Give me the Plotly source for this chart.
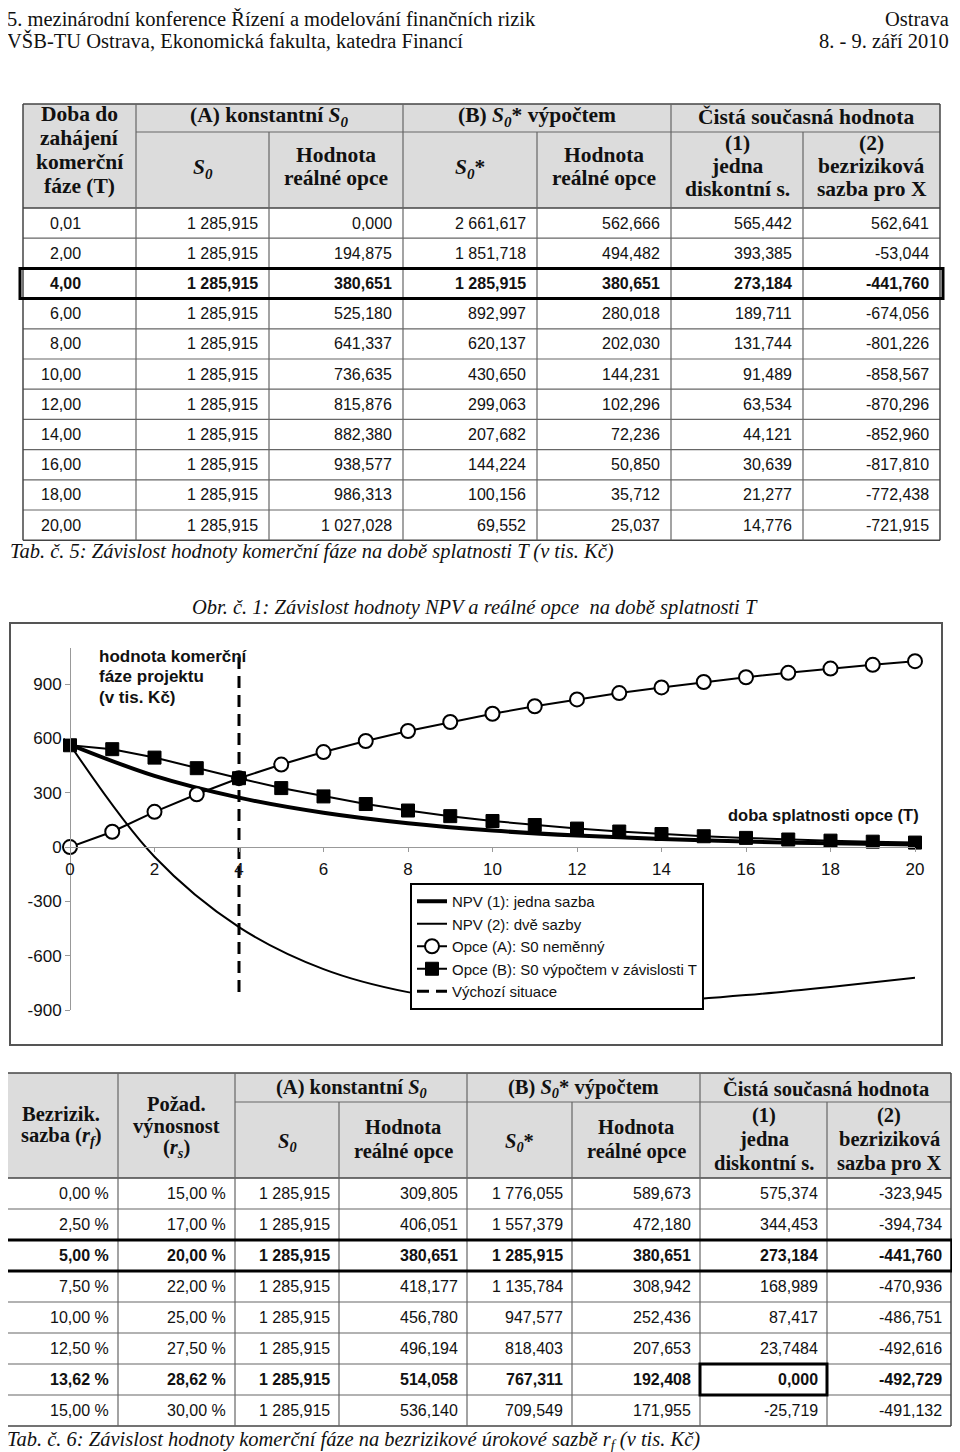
import plotly.graph_objects as go

W, H = 960, 1452
# the page body keeps its default 8 px margin, so the figure starts at (8, 8) on screen
OX, OY = 8, 8
SERIF = "Liberation Serif, Times New Roman, serif"
SANS = "Liberation Sans, Arial, sans-serif"
NARROW = "Liberation Sans Narrow, Arial Narrow, Liberation Sans, sans-serif"
INK = "#111111"

# ---------------- Obr. 1 data ----------------
t_tab = [0.01, 2, 4, 6, 8, 10, 12, 14, 16, 18, 20]
npv_jedna = [565.442, 393.385, 273.184, 189.711, 131.744, 91.489, 63.534, 44.121, 30.639, 21.277, 14.776]
npv_dve = [562.641, -53.044, -441.760, -674.056, -801.226, -858.567, -870.296, -852.960, -817.810, -772.438, -721.915]
t_int = [0, 1, 2, 3, 4, 5, 6, 7, 8, 9, 10, 11, 12, 13, 14, 15, 16, 17, 18, 19, 20]
opce_a = [0.0, 85, 194.875, 292, 380.651, 456, 525.180, 586, 641.337, 691, 736.635,
          778, 815.876, 851, 882.380, 912, 938.577, 963, 986.313, 1007, 1027.028]
opce_b = [562.666, 541, 494.482, 436, 380.651, 326, 280.018, 238, 202.030, 171, 144.231,
          122, 102.296, 86, 72.236, 60, 50.850, 42, 35.712, 30, 25.037]
vychozi_t = [4, 4]
vychozi_y = [-800, 1050]
y_ticks = [-900, -600, -300, 0, 300, 600, 900]
y_ticktext = ["-900", "-600", "-300", "0", "300", "600", "900"]
x_ticks = [0, 2, 4, 6, 8, 10, 12, 14, 16, 18, 20]

# ---------------- Tab. 5 data ----------------
t1_T = ["0,01", "2,00", "4,00", "6,00", "8,00", "10,00", "12,00", "14,00", "16,00", "18,00", "20,00"]
t1_s0 = [1285.915, 1285.915, 1285.915, 1285.915, 1285.915, 1285.915, 1285.915, 1285.915, 1285.915, 1285.915, 1285.915]
t1_opce_a = [0.000, 194.875, 380.651, 525.180, 641.337, 736.635, 815.876, 882.380, 938.577, 986.313, 1027.028]
t1_s0_star = [2661.617, 1851.718, 1285.915, 892.997, 620.137, 430.650, 299.063, 207.682, 144.224, 100.156, 69.552]
t1_opce_b = [562.666, 494.482, 380.651, 280.018, 202.030, 144.231, 102.296, 72.236, 50.850, 35.712, 25.037]
t1_npv1 = npv_jedna
t1_npv2 = npv_dve

# ---------------- Tab. 6 data ----------------
t2_rf = ["0,00 %", "2,50 %", "5,00 %", "7,50 %", "10,00 %", "12,50 %", "13,62 %", "15,00 %"]
t2_rs = ["15,00 %", "17,00 %", "20,00 %", "22,00 %", "25,00 %", "27,50 %", "28,62 %", "30,00 %"]
t2_s0 = ["1 285,915", "1 285,915", "1 285,915", "1 285,915", "1 285,915", "1 285,915", "1 285,915", "1 285,915"]
t2_opce_a = ["309,805", "406,051", "380,651", "418,177", "456,780", "496,194", "514,058", "536,140"]
t2_s0_star = ["1 776,055", "1 557,379", "1 285,915", "1 135,784", "947,577", "818,403", "767,311", "709,549"]
t2_opce_b = ["589,673", "472,180", "380,651", "308,942", "252,436", "207,653", "192,408", "171,955"]
t2_npv1 = ["575,374", "344,453", "273,184", "168,989", "87,417", "23,7484", "0,000", "-25,719"]
t2_npv2 = ["-323,945", "-394,734", "-441,760", "-470,936", "-486,751", "-492,616", "-492,729", "-491,132"]


def cz(v):
    return f"{v:,.3f}".replace(",", " ").replace(".", ",")


shapes = []
annos = []


def px(x):
    return (x - OX) / W


def py(y):
    return 1 - (y - OY) / H


def line(x0, y0, x1, y1, w=1, c="#666"):
    shapes.append(dict(type="line", xref="paper", yref="paper", x0=px(x0), y0=py(y0),
                       x1=px(x1), y1=py(y1), line=dict(color=c, width=w)))


def rect(x0, y0, x1, y1, w=1, c="#333", fill="rgba(0,0,0,0)"):
    shapes.append(dict(type="rect", xref="paper", yref="paper", x0=px(x0), y0=py(y0),
                       x1=px(x1), y1=py(y1), line=dict(color=c, width=w), fillcolor=fill,
                       layer="below" if w == 0 else "above"))


def text(x, y, s, size, family, anchor="center"):
    annos.append(dict(xref="paper", yref="paper", x=px(x), y=py(y), text=s, showarrow=False,
                      xanchor=anchor, yanchor="middle", font=dict(size=size, family=family, color=INK)))


def head(x0, x1, yc, lines, size, gap):
    n = len(lines)
    for i, s in enumerate(lines):
        text((x0 + x1) / 2, yc + (i - (n - 1) / 2) * gap, "<b>" + s + "</b>", size, SERIF)


S0 = "<i>S<sub>0</sub></i>"
S0s = "<i>S<sub>0</sub></i>*"

# ---------------- page header ----------------
text(5, 19, "5. mezinárodní konference Řízení a modelování finančních rizik", 20.5, SERIF, "left")
text(5, 41, "VŠB-TU Ostrava, Ekonomická fakulta, katedra Financí", 20.5, SERIF, "left")
text(951, 19, "Ostrava", 20.5, SERIF, "right")
text(951, 41, "8. - 9. září 2010", 20.5, SERIF, "right")

# ---------------- Tab. 5 ----------------
X1 = [23, 136, 269, 403, 537, 671, 803, 940]
top1, mid1, hb1, rh1 = 104, 132, 208, 30.2
n1 = len(t1_T)
bot1 = hb1 + n1 * rh1
HF1 = 21.5
rect(X1[0], top1, X1[-1], hb1, 0, fill="#dcdcdc")
for y in [top1, hb1, bot1]:
    line(X1[0], y, X1[-1], y, 1.5, "#444")
line(X1[1], mid1, X1[-1], mid1, 1.2)
for i in range(1, n1):
    line(X1[0], hb1 + i * rh1, X1[-1], hb1 + i * rh1, 1.2)
for j, x in enumerate(X1):
    full = j in (0, 1, 3, 5, 7)
    line(x, top1 if full else mid1, x, bot1, 1.5 if j in (0, 7) else 1.2, "#444" if j in (0, 7) else "#666")

head(X1[0], X1[1], 150, ["Doba do", "zahájení", "komerční", "fáze (T)"], HF1, 23.7)
head(X1[1], X1[3], 117, ["(A) konstantní " + S0], HF1, 0)
head(X1[3], X1[5], 117, ["(B) " + S0s + " výpočtem"], HF1, 0)
head(X1[5], X1[7], 117, ["Čistá současná hodnota"], HF1, 0)
head(X1[1], X1[2], 168, [S0], HF1, 0)
head(X1[2], X1[3], 166, ["Hodnota", "reálné opce"], HF1, 23)
head(X1[3], X1[4], 168, [S0s], HF1, 0)
head(X1[4], X1[5], 166, ["Hodnota", "reálné opce"], HF1, 23)
head(X1[5], X1[6], 166, ["(1)", "jedna", "diskontní s."], HF1, 22.5)
head(X1[6], X1[7], 166, ["(2)", "bezriziková", "sazba pro X"], HF1, 22.5)

cols1 = [t1_T, [cz(v) for v in t1_s0], [cz(v) for v in t1_opce_a], [cz(v) for v in t1_s0_star],
         [cz(v) for v in t1_opce_b], [cz(v) for v in t1_npv1], [cz(v) for v in t1_npv2]]
bold1 = [2]
for i in range(n1):
    yc = hb1 + (i + 0.5) * rh1
    for j, col in enumerate(cols1):
        xr = 83 if j == 0 else X1[j + 1] - 9
        s = col[i]
        text(xr, yc, "<b>" + s + "</b>" if i in bold1 else s, 16, NARROW, "right")
rect(20, hb1 + 2 * rh1, 943, hb1 + 3 * rh1, 3, "#000")

text(8, 551, "<i>Tab. č. 5: Závislost hodnoty komerční fáze na době splatnosti T (v tis. Kč)</i>", 20.5, SERIF, "left")

# ---------------- Obr. 1 ----------------
text(475, 607, "<i>Obr. č. 1: Závislost hodnoty NPV a reálné opce  na době splatnosti T</i>", 20.5, SERIF)
rect(10, 623, 942, 1045, 2, "#555")
for k, s in enumerate(["hodnota komerční", "fáze projektu", "(v tis. Kč)"]):
    text(97, 656 + k * 20.5, "<b>" + s + "</b>", 17, SANS, "left")
text(823, 815, "<b>doba splatnosti opce (T)</b>", 16.5, SANS)

y_range = [-900, 1100]
xd = [px(70), px(915)]
yd = [py(1010), py(648)]
x_pos = yd[0] + (0 - y_range[0]) / (y_range[1] - y_range[0]) * (yd[1] - yd[0])

fig = go.Figure()
fig.add_scatter(x=t_tab, y=npv_jedna, mode="lines", name="NPV (1): jedna sazba",
                line=dict(color="black", width=4, shape="spline"))
fig.add_scatter(x=t_tab, y=npv_dve, mode="lines", name="NPV (2): dvě sazby",
                line=dict(color="black", width=2, shape="spline"))
fig.add_scatter(x=t_int, y=opce_a, mode="lines+markers", name="Opce (A): S0 neměnný", cliponaxis=False,
                line=dict(color="black", width=2),
                marker=dict(symbol="circle", size=14, color="white", line=dict(color="black", width=2)))
fig.add_scatter(x=t_int, y=opce_b, mode="lines+markers", name="Opce (B): S0 výpočtem v závislosti T", cliponaxis=False,
                line=dict(color="black", width=2),
                marker=dict(symbol="square", size=13, color="black", line=dict(color="black", width=1)))
fig.add_scatter(x=vychozi_t, y=vychozi_y, mode="lines", name="Výchozí situace",
                line=dict(color="black", width=3, dash="12px,7px"))

# ---------------- Tab. 6 ----------------
X2 = [4, 118, 235, 339, 467, 572, 700, 827, 951]
top2, mid2, hb2, rh2 = 1073, 1102, 1178, 31
n2 = len(t2_rf)
bot2 = hb2 + n2 * rh2
HF2 = 20.5
rect(X2[0], top2, X2[-1], hb2, 0, fill="#dcdcdc")
for y in [top2, hb2, bot2]:
    line(X2[0], y, X2[-1], y, 1.5, "#444")
line(X2[2], mid2, X2[-1], mid2, 1.2)
for i in range(1, n2):
    line(X2[0], hb2 + i * rh2, X2[-1], hb2 + i * rh2, 1.2)
for j, x in enumerate(X2):
    full = j in (0, 1, 2, 4, 6, 8)
    line(x, top2 if full else mid2, x, bot2, 1.5 if j in (0, 8) else 1.2, "#444" if j in (0, 8) else "#666")

head(X2[0], X2[1], 1125, ["Bezrizik.", "sazba (<i>r<sub>f</sub></i>)"], HF2, 23)
head(X2[1], X2[2], 1126, ["Požad.", "výnosnost", "(<i>r<sub>s</sub></i>)"], HF2, 22)
head(X2[2], X2[4], 1088, ["(A) konstantní " + S0], HF2, 0)
head(X2[4], X2[6], 1088, ["(B) " + S0s + " výpočtem"], HF2, 0)
head(X2[6], X2[8], 1088, ["Čistá současná hodnota"], HF2, 0)
head(X2[2], X2[3], 1142, [S0], HF2, 0)
head(X2[3], X2[4], 1139, ["Hodnota", "reálné opce"], HF2, 24)
head(X2[4], X2[5], 1142, [S0s], HF2, 0)
head(X2[5], X2[6], 1139, ["Hodnota", "reálné opce"], HF2, 24)
head(X2[6], X2[7], 1139, ["(1)", "jedna", "diskontní s."], HF2, 24)
head(X2[7], X2[8], 1139, ["(2)", "bezriziková", "sazba pro X"], HF2, 24)

cols2 = [t2_rf, t2_rs, t2_s0, t2_opce_a, t2_s0_star, t2_opce_b, t2_npv1, t2_npv2]
bold2 = [2, 6]
for i in range(n2):
    yc = hb2 + (i + 0.5) * rh2
    for j, col in enumerate(cols2):
        s = col[i]
        text(X2[j + 1] - 7, yc, "<b>" + s + "</b>" if i in bold2 else s, 16, NARROW, "right")
rect(2, hb2 + 2 * rh2, 952, hb2 + 3 * rh2, 3, "#000")
rect(X2[6], hb2 + 6 * rh2, X2[7], hb2 + 7 * rh2, 3, "#000")

text(5, 1440, "<i>Tab. č. 6: Závislost hodnoty komerční fáze na bezrizikové úrokové sazbě r<sub>f</sub> (v tis. Kč)</i>", 20.5, SERIF, "left")

axis_font = dict(size=17, family=SANS, color=INK)
fig.update_layout(
    width=W, height=H,
    margin=dict(l=0, r=0, t=0, b=0, autoexpand=False),
    paper_bgcolor="white", plot_bgcolor="white",
    xaxis=dict(domain=xd, range=[0, 20], anchor="free", position=x_pos, tickvals=x_ticks,
               showline=True, linecolor="#999", linewidth=1, ticks="outside", ticklen=4,
               ticklabelstandoff=2, automargin=False,
               tickcolor="#999", showgrid=False, zeroline=False, tickfont=axis_font),
    yaxis=dict(domain=yd, range=y_range, anchor="free", position=xd[0], tickvals=y_ticks,
               ticktext=y_ticktext, showline=True, linecolor="#999", linewidth=1, ticks="outside",
               ticklen=5, tickcolor="#999", showgrid=False, zeroline=False, tickfont=axis_font,
               automargin=False),
    legend=dict(x=px(410), y=py(883), xanchor="left", yanchor="top", bgcolor="white",
                bordercolor="black", borderwidth=2, font=dict(size=15, family=SANS, color=INK),
                tracegroupgap=0, itemwidth=30),
    shapes=shapes,
    annotations=annos,
)

fig.write_html("out.html")
